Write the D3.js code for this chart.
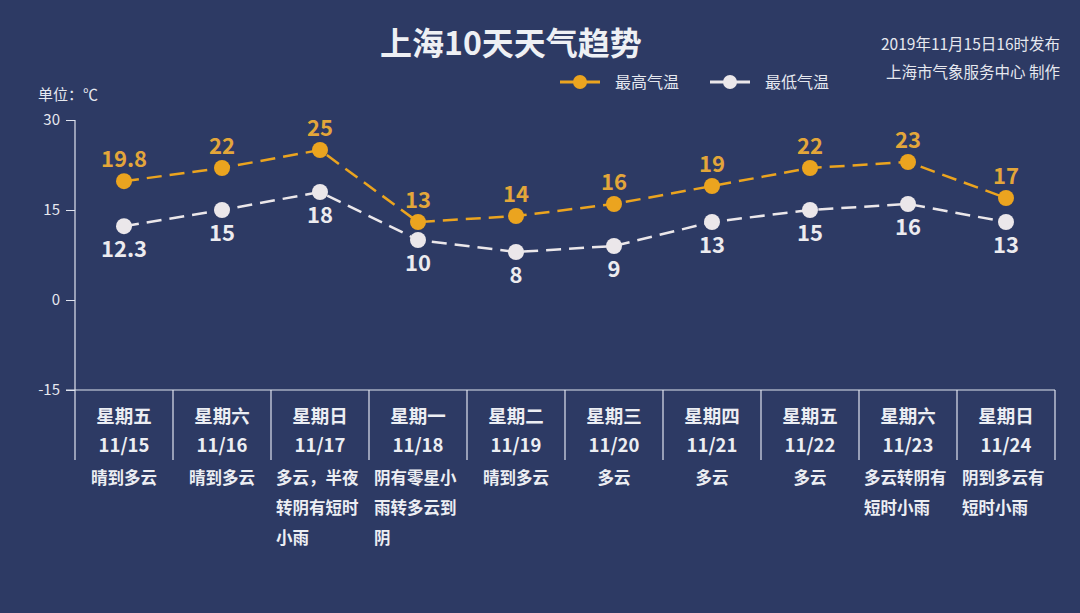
<!DOCTYPE html>
<html><head><meta charset="utf-8">
<script src="https://cdn.jsdelivr.net/npm/d3@7"></script>
<style>
html,body{margin:0;padding:0;background:#2d3a64;}
svg{display:block;}
text{font-family:"Noto Sans CJK SC","Noto Sans",sans-serif;}
</style></head>
<body>
<svg id="c" width="1080" height="613"></svg>
<script>
const weekdays = ["星期五","星期六","星期日","星期一","星期二","星期三","星期四","星期五","星期六","星期日"];
const dates = ["11/15","11/16","11/17","11/18","11/19","11/20","11/21","11/22","11/23","11/24"];
const weather = [["晴到多云"],["晴到多云"],["多云，半夜","转阴有短时","小雨"],["阴有零星小","雨转多云到","阴"],["晴到多云"],["多云"],["多云"],["多云"],["多云转阴有","短时小雨"],["阴到多云有","短时小雨"]];
const highs = [19.8,22,25,13,14,16,19,22,23,17];
const lows = [12.3,15,18,10,8,9,13,15,16,13];
const yTicks = [-15,0,15,30];

const svg = d3.select("#c");
const W=1080,H=613;
svg.append("rect").attr("width",W).attr("height",H).attr("fill","#2d3a64");

const x = d3.scaleBand().domain(d3.range(10)).range([75,1055]).paddingInner(0).paddingOuter(0);
const y = d3.scaleLinear().domain([-15,30]).range([390,120]);
const axisColor="#dfe3ee";
const orange="#eba41f", orangeTxt="#e3a63a", white="#ebe7ea";

// title
svg.append("text").attr("x",511).attr("y",55).attr("text-anchor","middle")
  .attr("font-size",32).attr("font-weight","bold").attr("fill","#eef0f4").text("上海10天天气趋势");
svg.append("text").attr("x",1060).attr("y",50).attr("text-anchor","end").attr("font-size",15.5).attr("fill","#e6e8ef").text("2019年11月15日16时发布");
svg.append("text").attr("x",1060).attr("y",78).attr("text-anchor","end").attr("font-size",15.5).attr("fill","#e6e8ef").text("上海市气象服务中心 制作");
svg.append("text").attr("x",38).attr("y",100).attr("font-size",15).attr("fill","#e6e8ef").text("单位：℃");

// legend
const leg=[{c:orange,t:"最高气温",x:560},{c:white,t:"最低气温",x:710}];
leg.forEach(l=>{
  svg.append("line").attr("x1",l.x).attr("x2",l.x+40).attr("y1",82).attr("y2",82).attr("stroke",l.c).attr("stroke-width",3);
  svg.append("circle").attr("cx",l.x+20).attr("cy",82).attr("r",7).attr("fill",l.c);
  svg.append("text").attr("x",l.x+55).attr("y",88).attr("font-size",16).attr("fill","#e6e8ef").text(l.t);
});

// y axis
const ya = svg.append("g").attr("transform","translate(75,0)")
  .call(d3.axisLeft(y).tickValues(yTicks).tickSize(9).tickPadding(6).tickFormat(d=>String(d)));
ya.select(".domain").remove();
ya.selectAll("line").attr("stroke",axisColor);
ya.selectAll("text").attr("fill","#e6e8ef").attr("font-size",15).attr("font-family","\"Noto Sans\",sans-serif");
svg.append("line").attr("x1",75).attr("x2",75).attr("y1",120).attr("y2",460).attr("stroke",axisColor).attr("stroke-width",1.2);
svg.append("line").attr("x1",66).attr("x2",1055).attr("y1",390).attr("y2",390).attr("stroke",axisColor).attr("stroke-width",1.2);
// separators
d3.range(1,11).forEach(i=>{
  const xx = i<10? x(i): x(9)+x.bandwidth();
  svg.append("line").attr("x1",xx).attr("x2",xx).attr("y1",390).attr("y2",460).attr("stroke",axisColor).attr("stroke-width",1.2);
});

// category labels
const cats = svg.append("g");
d3.range(10).forEach(i=>{
  const cx = x(i)+x.bandwidth()/2;
  cats.append("text").attr("x",cx).attr("y",423).attr("text-anchor","middle").attr("font-size",18.5).attr("font-weight","bold").attr("fill","#eceef3").text(weekdays[i]);
  cats.append("text").attr("x",cx).attr("y",452).attr("text-anchor","middle").attr("font-size",18.5).attr("font-weight","bold").attr("fill","#eceef3").text(dates[i]);
  const lines = weather[i];
  lines.forEach((t,j)=>{
    const anchor = lines.length>1 ? "start":"middle";
    const tx = lines.length>1 ? x(i)+5 : cx;
    cats.append("text").attr("x",tx).attr("y",484+j*30).attr("text-anchor",anchor).attr("font-size",16.5).attr("font-weight","bold").attr("fill","#eceef3").text(t);
  });
});

// lines
const cxOf = i=>x(i)+x.bandwidth()/2;
const line = d3.line().x((d,i)=>cxOf(i)).y(d=>y(d));
function series(data,color,txtColor,above){
  svg.append("path").attr("d",line(data)).attr("fill","none").attr("stroke",color).attr("stroke-width",2.5).attr("stroke-dasharray","15,8");
  svg.selectAll(null).data(data).enter().append("circle").attr("cx",(d,i)=>cxOf(i)).attr("cy",d=>y(d)).attr("r",8).attr("fill",color);
  svg.selectAll(null).data(data).enter().append("text").attr("x",(d,i)=>cxOf(i)).attr("y",d=>above? y(d)-14 : y(d)+31)
    .attr("text-anchor","middle").attr("font-size",22).attr("font-weight","bold").attr("fill",txtColor).text(d=>d);
}
series(highs,orange,orangeTxt,true);
series(lows,white,"#ecebef",false);
</script>
</body></html>
